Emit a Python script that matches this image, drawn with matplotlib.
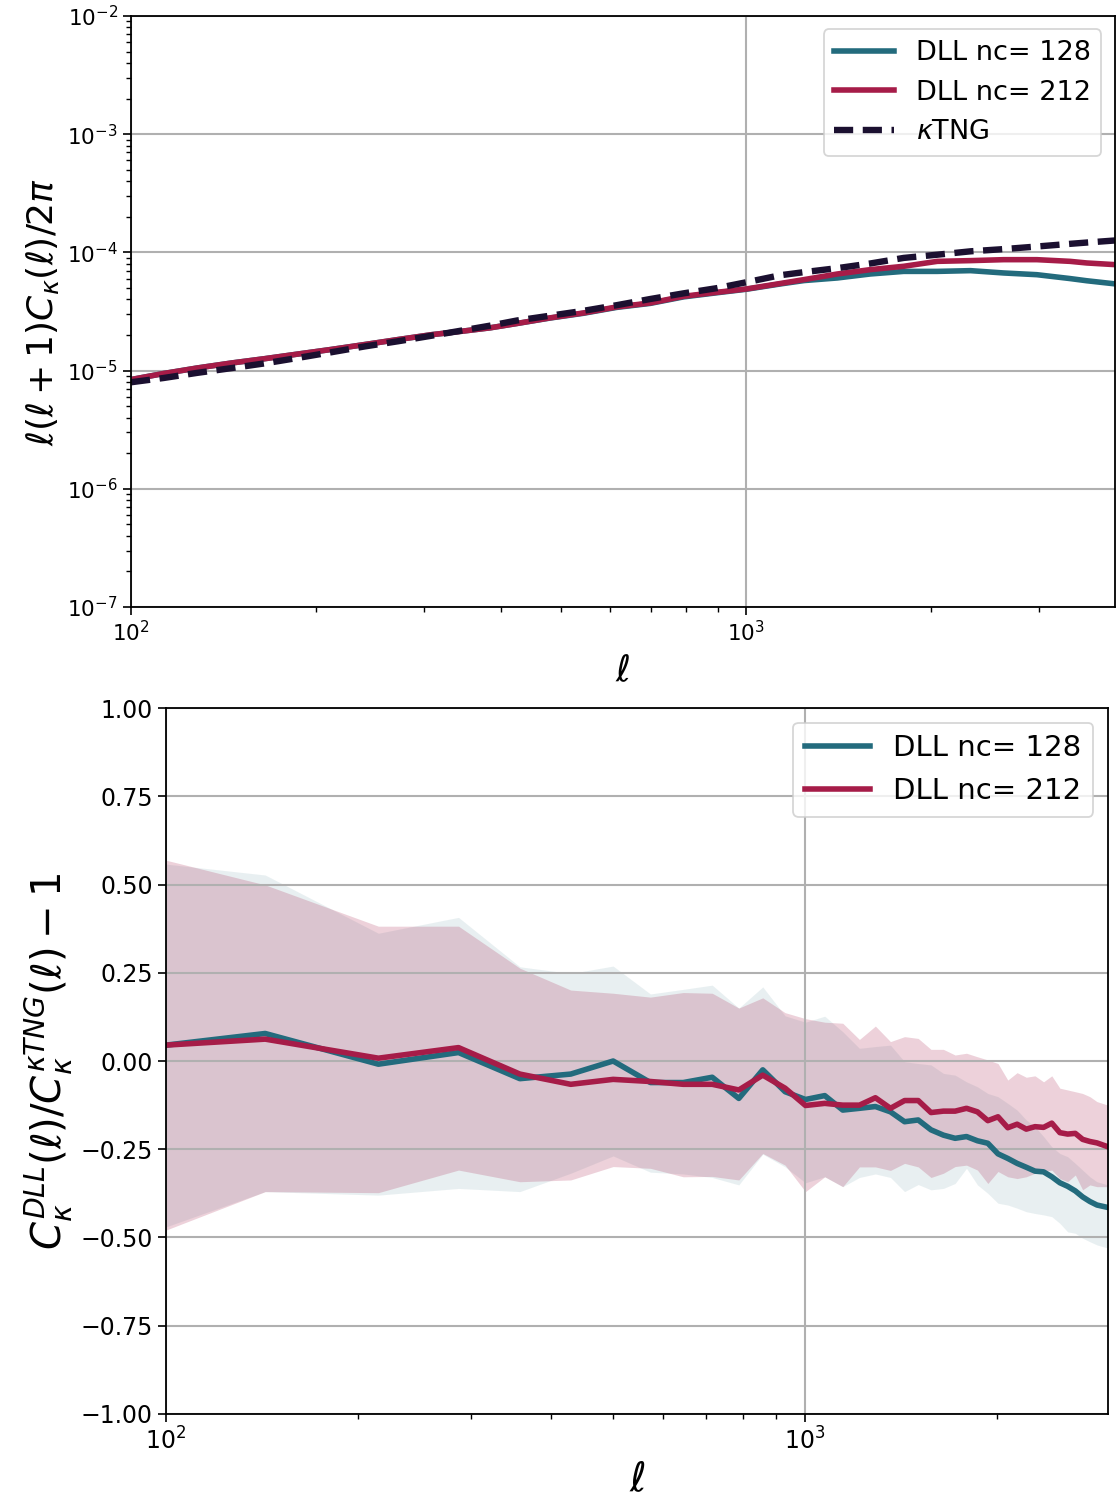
import numpy as np
import matplotlib
matplotlib.use("Agg")
import matplotlib.pyplot as plt

TEAL = "#236b7d"
CRIMSON = "#a61c48"
INK = "#1b1030"

# ---- power spectra ell(ell+1)C/2pi ----
ell_top = [100, 113, 128, 146, 165, 187, 212, 240, 272, 308, 345, 384, 424, 480,
           544, 616, 699, 792, 897, 1004, 1137, 1243, 1408, 1593, 1805, 2047,
           2318, 2625, 2972, 3365, 3582, 3982]
cl_nc212 = [8.39e-6, 9.44e-6, 1.05e-5, 1.16e-5, 1.26e-5, 1.38e-5, 1.51e-5, 1.66e-5,
            1.83e-5, 2.01e-5, 2.15e-5, 2.30e-5, 2.50e-5, 2.79e-5, 3.07e-5, 3.45e-5,
            3.73e-5, 4.25e-5, 4.59e-5, 4.91e-5, 5.45e-5, 5.88e-5, 6.56e-5, 7.14e-5,
            7.62e-5, 8.39e-5, 8.51e-5, 8.67e-5, 8.67e-5, 8.39e-5, 8.13e-5, 7.87e-5]
cl_nc128 = [8.39e-6, 9.44e-6, 1.05e-5, 1.16e-5, 1.26e-5, 1.38e-5, 1.51e-5, 1.66e-5,
            1.83e-5, 2.01e-5, 2.15e-5, 2.30e-5, 2.50e-5, 2.78e-5, 3.05e-5, 3.42e-5,
            3.70e-5, 4.20e-5, 4.55e-5, 4.88e-5, 5.40e-5, 5.77e-5, 6.07e-5, 6.56e-5,
            6.90e-5, 6.90e-5, 7.00e-5, 6.69e-5, 6.47e-5, 6.00e-5, 5.75e-5, 5.41e-5]
cl_tng = [7.96e-6, 8.65e-6, 9.55e-6, 1.05e-5, 1.15e-5, 1.28e-5, 1.43e-5, 1.60e-5,
          1.77e-5, 1.97e-5, 2.18e-5, 2.40e-5, 2.65e-5, 2.91e-5, 3.20e-5, 3.57e-5,
          4.03e-5, 4.50e-5, 4.98e-5, 5.60e-5, 6.40e-5, 6.80e-5, 7.35e-5, 8.05e-5,
          8.97e-5, 9.55e-5, 1.02e-4, 1.065e-4, 1.12e-4, 1.18e-4, 1.21e-4, 1.26e-4]

# ---- relative difference to kappaTNG (mean and band) ----
ell_bins = [100, 143, 215, 287, 358, 430, 501, 573, 645, 716, 788, 859, 931, 1002,
            1074, 1146, 1217, 1289, 1361, 1432, 1504, 1575, 1647, 1718, 1790, 1862,
            1933, 2005, 2077, 2148, 2220, 2291, 2363, 2434, 2506, 2577, 2649, 2720,
            2792, 2864, 2980]
diff_nc128 = [0.045, 0.078, -0.009, 0.024, -0.050, -0.037, 0.000, -0.061, -0.061,
              -0.046, -0.106, -0.025, -0.087, -0.109, -0.098, -0.139, -0.134, -0.129,
              -0.144, -0.172, -0.167, -0.195, -0.210, -0.219, -0.214, -0.226, -0.233,
              -0.263, -0.276, -0.290, -0.301, -0.312, -0.314, -0.328, -0.345, -0.355,
              -0.368, -0.385, -0.398, -0.408, -0.415]
diff_nc212 = [0.045, 0.062, 0.008, 0.038, -0.037, -0.066, -0.052, -0.058, -0.066,
              -0.066, -0.082, -0.040, -0.077, -0.126, -0.120, -0.125, -0.125, -0.104,
              -0.134, -0.112, -0.112, -0.146, -0.142, -0.142, -0.134, -0.144, -0.169,
              -0.158, -0.189, -0.179, -0.193, -0.186, -0.188, -0.176, -0.203, -0.207,
              -0.205, -0.222, -0.228, -0.232, -0.243]
up_nc128 = [0.558, 0.527, 0.362, 0.407, 0.267, 0.248, 0.269, 0.190, 0.203, 0.215,
            0.150, 0.210, 0.128, 0.110, 0.127, 0.083, 0.036, 0.041, 0.045, -0.002,
            -0.007, -0.011, -0.035, -0.040, -0.059, -0.073, -0.092, -0.101, -0.120,
            -0.139, -0.167, -0.186, -0.214, -0.243, -0.262, -0.271, -0.290, -0.309,
            -0.328, -0.342, -0.351]
lo_nc128 = [-0.470, -0.370, -0.380, -0.361, -0.370, -0.318, -0.269, -0.315, -0.320,
            -0.330, -0.351, -0.264, -0.300, -0.345, -0.328, -0.356, -0.330, -0.320,
            -0.330, -0.370, -0.350, -0.365, -0.361, -0.347, -0.304, -0.351, -0.375,
            -0.403, -0.408, -0.417, -0.427, -0.432, -0.436, -0.441, -0.460, -0.484,
            -0.488, -0.502, -0.512, -0.521, -0.530]
up_nc212 = [0.569, 0.499, 0.382, 0.382, 0.263, 0.201, 0.192, 0.181, 0.194, 0.192,
            0.150, 0.179, 0.137, 0.120, 0.110, 0.107, 0.061, 0.099, 0.055, 0.069,
            0.064, 0.033, 0.033, 0.017, 0.022, 0.012, 0.003, -0.007, -0.054, -0.033,
            -0.046, -0.042, -0.059, -0.042, -0.077, -0.082, -0.087, -0.092, -0.101,
            -0.115, -0.125]
lo_nc212 = [-0.479, -0.370, -0.373, -0.309, -0.342, -0.337, -0.299, -0.304, -0.328,
            -0.327, -0.337, -0.262, -0.295, -0.370, -0.328, -0.356, -0.300, -0.300,
            -0.310, -0.290, -0.300, -0.330, -0.318, -0.299, -0.295, -0.309, -0.347,
            -0.313, -0.328, -0.333, -0.328, -0.318, -0.313, -0.309, -0.333, -0.342,
            -0.323, -0.365, -0.351, -0.356, -0.356]

fig = plt.figure(figsize=(11.16, 15.02), dpi=100)

# top panel: spectra
ax1 = fig.add_axes([0.1174, 0.5959, 0.8817, 0.3935])
ax1.loglog(ell_top, cl_nc128, color=TEAL, lw=4.0, label="DLL nc= 128")
ax1.loglog(ell_top, cl_nc212, color=CRIMSON, lw=4.0, label="DLL nc= 212")
ax1.loglog(ell_top, cl_tng, color=INK, lw=4.6, ls=(0, (3.0, 1.5)), label=r"$\kappa$TNG")
ax1.set_xlim(100, 3982)
ax1.set_ylim(1e-7, 1e-2)
ax1.grid(True, which="major", color="#b0b0b0", lw=1.5)
ax1.set_xlabel(r"$\ell$", fontsize=26, labelpad=6)
ax1.set_ylabel(r"$\ell(\ell+1)C_\kappa(\ell)/2\pi$", fontsize=26)
ax1.tick_params(labelsize=15.5, width=1.2, length=6)
ax1.tick_params(which="minor", width=1.0, length=3.5)
leg = ax1.legend(loc="upper right", fontsize=19.5, handlelength=2.2, borderpad=0.4,
                 labelspacing=0.5)
leg.get_frame().set_linewidth(1.3)

# bottom panel: relative difference with spread
ax2 = fig.add_axes([0.1487, 0.0586, 0.8441, 0.4700])
ax2.fill_between(ell_bins, lo_nc128, up_nc128, color=TEAL, alpha=0.1, lw=0)
ax2.fill_between(ell_bins, lo_nc212, up_nc212, color=CRIMSON, alpha=0.2, lw=0)
ax2.plot(ell_bins, diff_nc128, color=TEAL, lw=4.0, label="DLL nc= 128")
ax2.plot(ell_bins, diff_nc212, color=CRIMSON, lw=4.0, label="DLL nc= 212")
ax2.set_xscale("log")
ax2.set_xlim(100, 2980)
ax2.set_ylim(-1, 1)
ax2.grid(True, which="major", color="#b0b0b0", lw=1.5)
ax2.set_xlabel(r"$\ell$", fontsize=29, labelpad=4)
ax2.set_ylabel(r"$C_\kappa^{DLL}(\ell)/C_\kappa^{\kappa TNG}(\ell)-1$", fontsize=29)
ax2.tick_params(labelsize=17, width=1.2, length=6)
ax2.tick_params(which="minor", width=1.0, length=3.5)
leg2 = ax2.legend(loc="upper right", fontsize=21, handlelength=2.25, borderpad=0.4,
                  labelspacing=0.5)
leg2.get_frame().set_linewidth(1.3)

for ax in (ax1, ax2):
    for s in ax.spines.values():
        s.set_linewidth(1.3)

fig.savefig("out.png", dpi=100)
